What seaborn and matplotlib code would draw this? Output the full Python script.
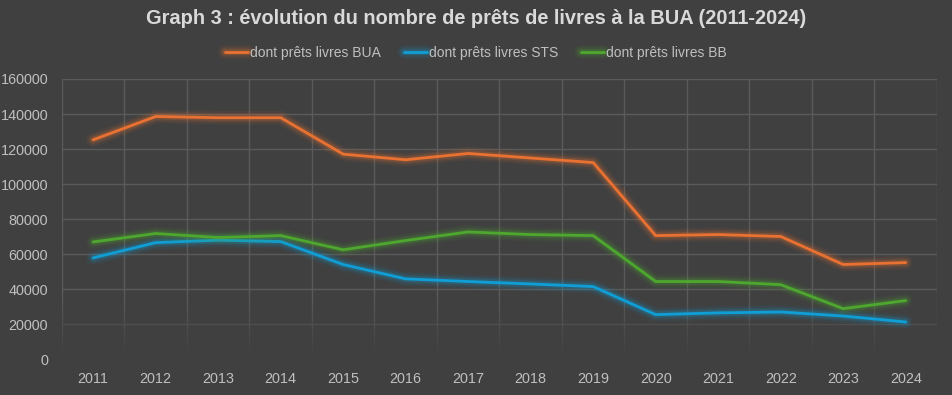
import numpy as np
import pandas as pd
import seaborn as sns
import matplotlib.pyplot as plt
import matplotlib.patheffects as pe
from matplotlib.colors import to_rgb

# values
years = ["2011", "2012", "2013", "2014", "2015", "2016", "2017",
         "2018", "2019", "2020", "2021", "2022", "2023", "2024"]
bua = [125300, 138600, 137900, 137900, 117100, 113900, 117500,
       114900, 112300, 70600, 71200, 70100, 54100, 55200]
sts = [57900, 66600, 68000, 67200, 54100, 45900, 44400,
       43000, 41500, 25500, 26500, 27000, 24700, 21300]
bb = [67000, 71800, 69500, 70600, 62500, 67800, 72700,
      71200, 70600, 44400, 44400, 42600, 28900, 33500]
series_names = ["dont prêts livres BUA", "dont prêts livres STS", "dont prêts livres BB"]
colors = ["#E97132", "#0F9ED5", "#4EA72E"]

df = pd.DataFrame({"année": years * 3,
                   "prêts": bua + sts + bb,
                   "série": [s for s in series_names for _ in years]})

bg = "#404040"
sns.set_style("dark")
plt.rcParams["font.family"] = ["Liberation Sans", "DejaVu Sans"]

fig = plt.figure(figsize=(9.52, 3.95), dpi=100, facecolor=bg)
ax = fig.add_axes([0.0651, 0.0904, 0.9191, 0.7096])
ax.set_facecolor(bg)

sns.lineplot(data=df, x="année", y="prêts", hue="série", palette=colors,
             linewidth=2, ax=ax, sort=False)

# soft glow around each line
for line in ax.get_lines():
    c = line.get_color()
    line.set_path_effects([
        pe.Stroke(linewidth=10, foreground=c, alpha=0.07),
        pe.Stroke(linewidth=7, foreground=c, alpha=0.11),
        pe.Stroke(linewidth=4.5, foreground=c, alpha=0.2),
        pe.Normal()])

ax.set_xlim(-0.5, len(years) - 0.5)
ax.set_ylim(0, 160000)
ax.set_yticks(range(0, 160001, 20000))
ax.set_xticks(range(len(years)))
ax.set_xticks([i - 0.5 for i in range(len(years) + 1)], minor=True)
ax.grid(False)
ax.grid(axis="y", which="major", color="#5a5a5a", linewidth=1)
ax.grid(axis="x", which="minor", color="#5a5a5a", linewidth=1)
ax.set_axisbelow(True)
ax.tick_params(axis="both", which="both", length=0, colors="#bfbfbf", labelsize=10.4)
ax.tick_params(axis="x", pad=9)
ax.tick_params(axis="y", pad=10)
for s in ax.spines.values():
    s.set_visible(False)
ax.set_xlabel("")
ax.set_ylabel("")

# gridlines fade out towards the bottom of the plot area
grad = np.zeros((100, 1, 4))
grad[:, 0, :3] = to_rgb(bg)
grad[:, 0, 3] = np.clip(1 - np.linspace(0, 1, 100) / 0.22, 0, 1)
ax.imshow(grad, extent=(0, 1, 0, 1), transform=ax.transAxes, origin="lower",
          aspect="auto", zorder=1)
ax.set_xlim(-0.5, len(years) - 0.5)
ax.set_ylim(0, 160000)

handles, labels = ax.get_legend_handles_labels()
ax.get_legend().remove()
fig.legend(handles, labels, loc="center", bbox_to_anchor=(0.5, 0.866), ncol=3,
           frameon=False, labelcolor="#bfbfbf",
           handlelength=1.65, handletextpad=0.2, columnspacing=1.6,
           prop={"family": "Liberation Sans", "size": 10})

fig.text(0.5, 0.952, "Graph 3 : évolution du nombre de prêts de livres à la BUA (2011-2024)",
         ha="center", va="center", color="#d9d9d9", fontsize=14.4, fontweight="bold",
         family="Liberation Sans")

fig.savefig("out.png", dpi=100, facecolor=bg)
